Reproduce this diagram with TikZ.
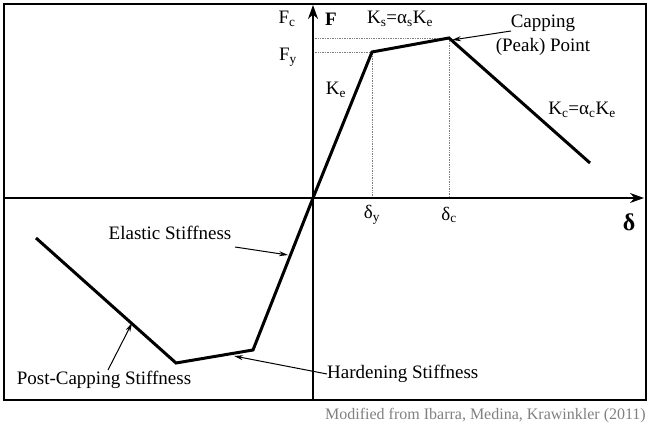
\documentclass[tikz,border=0pt]{standalone}
\usepackage{fontspec}
\setmainfont{Liberation Serif}
\usetikzlibrary{arrows.meta}
\begin{document}
\begin{tikzpicture}[x=1pt,y=-1pt,
  lbl/.style={inner sep=0pt,font=\fontsize{19}{22}\selectfont},
  curve/.style={line width=3pt,line join=miter},
  axis/.style={line width=1.8pt,-{Stealth[length=14pt,width=10pt]}},
  guide/.style={densely dotted,line width=0.7pt,gray},
  ann/.style={line width=1pt,-{Stealth[length=9pt,width=5pt]}}]
\useasboundingbox (0,0) rectangle (656,430);
\node[draw,line width=1.8pt,inner sep=0pt,minimum width=642pt,minimum height=396pt,anchor=north west] (frame) at (3,3) {};
% key points
\coordinate (O) at (313,198);
\coordinate (Y) at (372,52);
\coordinate (C) at (449,38);
\coordinate (E) at (590,163);
\coordinate (NY) at (253,350);
\coordinate (NC) at (176,363);
\coordinate (NE) at (36,238);
\coordinate (ybot) at (313,399);
\coordinate (ytop) at (313,5);
\coordinate (xl) at (3,198);
\coordinate (xr) at (644,198);
\coordinate (fy) at (313,52);
\coordinate (fc) at (313,38);
\coordinate (dy) at (372,198);
\coordinate (dc) at (449,198);
% guides
\draw[guide] (fy) -- (Y) -- (dy);
\draw[guide] (fc) -- (C) -- (dc);
% axes
\draw[axis] (ybot) -- (ytop);
\draw[axis] (xl) -- (xr);
% curve
\draw[curve] (E) -- (C) -- (Y) -- (O) -- (NY) -- (NC) -- (NE);
% labels
\node[lbl] (Fc) at (287,19) {F\textsubscript{c}};
\node[lbl,font=\fontsize{19}{22}\selectfont\bfseries] (F) at (331,19) {F};
\node[lbl] (Ks) at (400,19) {K\textsubscript{s}=α\textsubscript{s}K\textsubscript{e}};
\node[lbl,align=center] (cap) at (543,35) {Capping\\[2pt](Peak) Point};
\node[lbl] (Fy) at (288,57) {F\textsubscript{y}};
\node[lbl] (Ke) at (336,90) {K\textsubscript{e}};
\node[lbl] (Kc) at (582,110) {K\textsubscript{c}=α\textsubscript{c}K\textsubscript{e}};
\node[lbl] (dyl) at (372,215) {δ\textsubscript{y}};
\node[lbl] (dcl) at (449,215) {δ\textsubscript{c}};
\node[lbl,font=\fontsize{24}{26}\selectfont\bfseries] (dl) at (629,222) {δ};
\node[lbl] (el) at (170,233) {Elastic Stiffness};
\node[lbl] (pc) at (104,380) {Post-Capping Stiffness};
\node[lbl,anchor=west] (hs) at (327,374) {Hardening Stiffness};
\node[lbl,font=\fontsize{16}{18}\selectfont,text=black!50,anchor=east] (cite) at (646,416) {Modified from Ibarra, Medina, Krawinkler (2011)};
% annotation arrows
\coordinate (capstart) at (511,31);
\coordinate (capend) at (452,40);
\draw[ann] (capstart) -- (capend);
\coordinate (elstart) at (235,247);
\coordinate (elend) at (288,255);
\draw[ann] (elstart) -- (elend);
\coordinate (pcstart) at (108,370);
\coordinate (pcend) at (132,323);
\draw[ann] (pcstart) -- (pcend);
\coordinate (hsend) at (234,356);
\draw[ann] (hs.west) -- (hsend);
\end{tikzpicture}
\end{document}
